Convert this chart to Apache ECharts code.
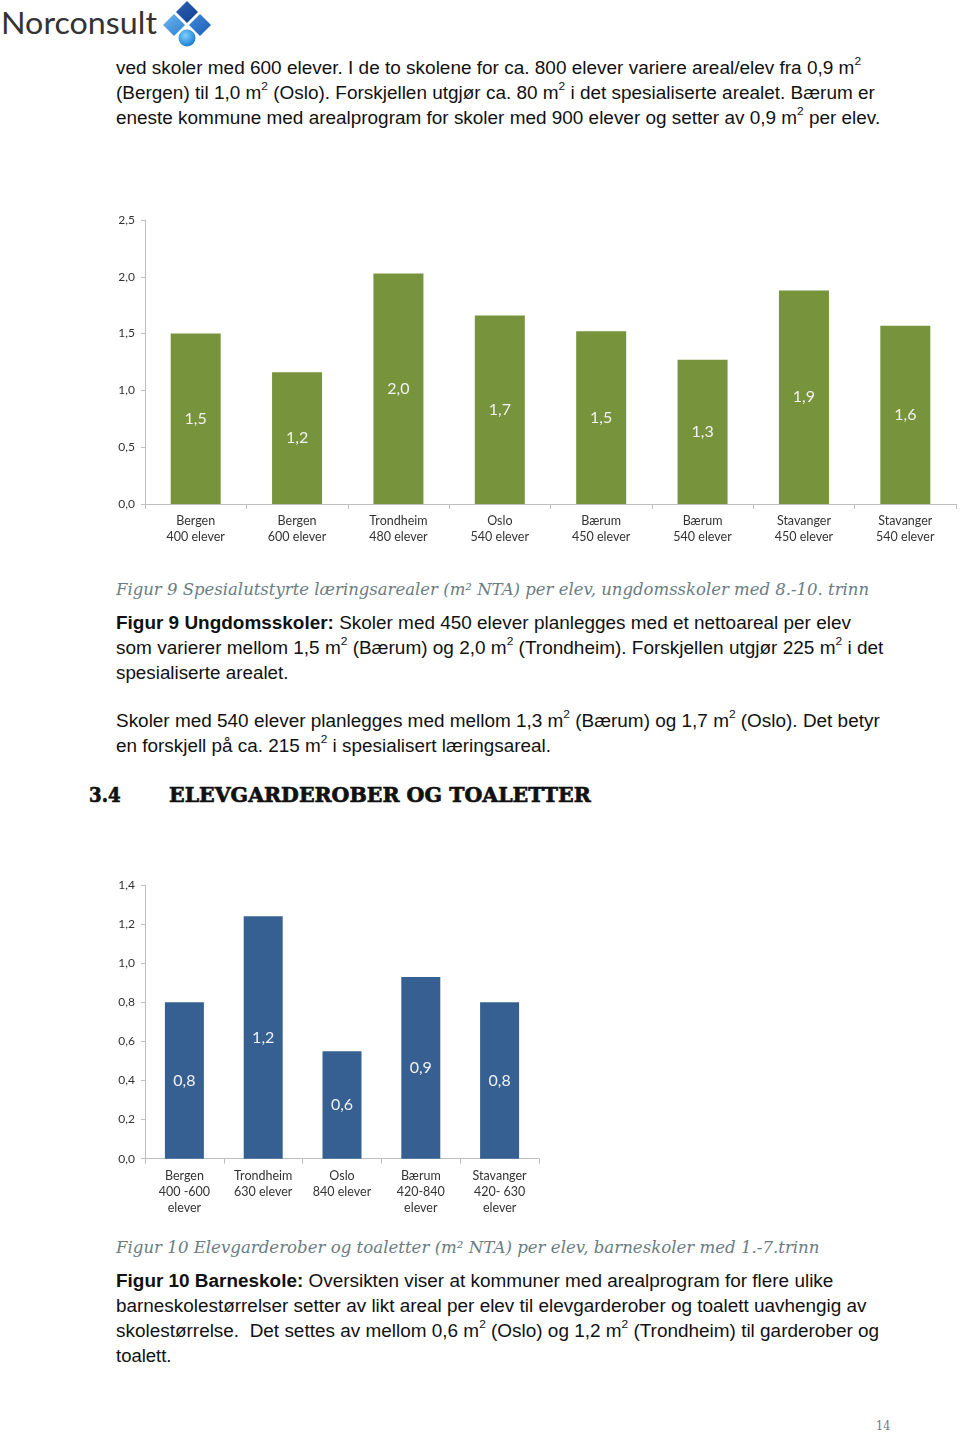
<!DOCTYPE html>
<html>
<head>
<meta charset="utf-8">
<script src="https://cdn.jsdelivr.net/npm/echarts@6/dist/echarts.min.js"></script>
<style>
  html, body { margin:0; padding:0; background:#fff; }
  body { width:960px; height:1434px; position:relative; overflow:hidden; }
  .t { position:absolute; white-space:nowrap; transform-origin:0 50%; line-height:20px; }
  .body { font-family:"Liberation Sans", Arial, sans-serif; font-size:17.5px; color:#111; }
  .cap { font-family:"DejaVu Serif", serif; font-style:italic; font-size:16px; color:#6a7c84; }
  .head { font-family:"DejaVu Serif", serif; font-weight:bold; font-size:21px; color:#111; line-height:26px; -webkit-text-stroke:0.7px #111; }
  sup { font-size:11px; line-height:0; vertical-align:0.8em; }
  .chart { position:absolute; left:0; width:960px; }
</style>
</head>
<body>
<!-- Logo -->
<div class="t" style="left:1px;top:4px;font-family:Lato, 'Open Sans', sans-serif;font-size:31px;line-height:36px;color:#333;" data-w="156">Norconsult</div>
<svg style="position:absolute;left:163px;top:0px" width="52" height="48">
  <defs>
    <linearGradient id="g1" x1="0" y1="0" x2="1" y2="1"><stop offset="0" stop-color="#2a62b8"/><stop offset="1" stop-color="#153f8c"/></linearGradient>
    <linearGradient id="g2" x1="0" y1="0" x2="1" y2="1"><stop offset="0" stop-color="#6fb6ee"/><stop offset="1" stop-color="#2c7fd0"/></linearGradient>
    <linearGradient id="g3" x1="0" y1="0" x2="1" y2="1"><stop offset="0" stop-color="#3f8ad8"/><stop offset="1" stop-color="#1d5db5"/></linearGradient>
    <radialGradient id="g4" cx="0.4" cy="0.35" r="0.7"><stop offset="0" stop-color="#7fd0ff"/><stop offset="1" stop-color="#1577d0"/></radialGradient>
  </defs>
  <polygon points="24,1 35,12 24,23 13,12" fill="url(#g1)"/>
  <polygon points="11,14 22,25 11,36 0,25" fill="url(#g2)"/>
  <polygon points="37,14 48,25 37,36 26,25" fill="url(#g3)"/>
  <circle cx="24" cy="38" r="8.5" fill="url(#g4)"/>
</svg>

<div class="t body" style="left:116px;top:58px" data-w="745">ved skoler med 600 elever. I de to skolene for ca. 800 elever variere areal/elev fra 0,9 m<sup>2</sup></div>
<div class="t body" style="left:116px;top:83px" data-w="759">(Bergen) til 1,0 m<sup>2</sup> (Oslo). Forskjellen utgjør ca. 80 m<sup>2</sup> i det spesialiserte arealet. Bærum er</div>
<div class="t body" style="left:116px;top:108px" data-w="764">eneste kommune med arealprogram for skoler med 900 elever og setter av 0,9 m<sup>2</sup> per elev.</div>

<div id="c1" class="chart" style="top:200px;height:360px"></div>

<div class="t cap" style="left:116px;top:580px" data-w="753">Figur 9 Spesialutstyrte læringsarealer (m² NTA) per elev, ungdomsskoler med 8.-10. trinn</div>
<div class="t body" style="left:116px;top:613px" data-w="735"><b>Figur 9 Ungdomsskoler:</b> Skoler med 450 elever planlegges med et nettoareal per elev</div>
<div class="t body" style="left:116px;top:638px" data-w="767">som varierer mellom 1,5 m<sup>2</sup> (Bærum) og 2,0 m<sup>2</sup> (Trondheim). Forskjellen utgjør 225 m<sup>2</sup> i det</div>
<div class="t body" style="left:116px;top:663px" data-w="173">spesialiserte arealet.</div>
<div class="t body" style="left:116px;top:711px" data-w="764">Skoler med 540 elever planlegges med mellom 1,3 m<sup>2</sup> (Bærum) og 1,7 m<sup>2</sup> (Oslo). Det betyr</div>
<div class="t body" style="left:116px;top:736px" data-w="435">en forskjell på ca. 215 m<sup>2</sup> i spesialisert læringsareal.</div>

<div class="t head" style="left:89px;top:782px" data-w="32">3.4</div>
<div class="t head" style="left:169px;top:782px" data-w="422">ELEVGARDEROBER OG TOALETTER</div>

<div id="c2" class="chart" style="top:870px;height:360px"></div>

<div class="t cap" style="left:116px;top:1238px" data-w="704">Figur 10 Elevgarderober og toaletter (m² NTA) per elev, barneskoler med 1.-7.trinn</div>
<div class="t body" style="left:116px;top:1271px" data-w="717"><b>Figur 10 Barneskole:</b> Oversikten viser at kommuner med arealprogram for flere ulike</div>
<div class="t body" style="left:116px;top:1296px" data-w="751">barneskolestørrelser setter av likt areal per elev til elevgarderober og toalett uavhengig av</div>
<div class="t body" style="left:116px;top:1321px" data-w="763">skolestørrelse.&nbsp; Det settes av mellom 0,6 m<sup>2</sup> (Oslo) og 1,2 m<sup>2</sup> (Trondheim) til garderober og</div>
<div class="t body" style="left:116px;top:1346px" data-w="56">toalett.</div>

<div class="t" style="left:876px;top:1416px;font-family:'DejaVu Serif',serif;font-size:12px;color:#777;" data-w="14">14</div>

<script>
// ---- Data ----
const ungdomCategories = ["Bergen\n400 elever", "Bergen\n600 elever", "Trondheim\n480 elever", "Oslo\n540 elever",
                          "Bærum\n450 elever", "Bærum\n540 elever", "Stavanger\n450 elever", "Stavanger\n540 elever"];
const ungdomValues = [1.50, 1.16, 2.03, 1.66, 1.52, 1.27, 1.88, 1.57];
const ungdomTicks = { min: 0, max: 2.5, interval: 0.5 };

const barneCategories = ["Bergen\n400 -600\nelever", "Trondheim\n630 elever", "Oslo\n840 elever",
                         "Bærum\n420-840\nelever", "Stavanger\n420- 630\nelever"];
const barneValues = [0.80, 1.24, 0.55, 0.93, 0.80];
const barneTicks = { min: 0, max: 1.4, interval: 0.2 };

// fit text lines
document.querySelectorAll('.t[data-w]').forEach(el => {
  const w = el.scrollWidth;
  const target = +el.dataset.w;
  if (w > 0) el.style.transform = 'scaleX(' + (target / w) + ')';
});

const comma = v => Number(v).toFixed(1).replace('.', ',');
const font = 'Lato, "Open Sans", sans-serif';

function makeChart(id, cats, vals, ticks, grid, barWidth, color) {
  const ch = echarts.init(document.getElementById(id), null, { renderer: 'canvas' });
  ch.setOption({
    animation: false,
    grid: grid,
    xAxis: {
      type: 'category', data: cats, boundaryGap: true,
      axisLine: { show: true, lineStyle: { color: '#bfbfbf', width: 1 } },
      axisTick: { show: true, length: 5, lineStyle: { color: '#bfbfbf' } },
      axisLabel: { color: '#333', fontFamily: font, fontSize: 12.5, lineHeight: 16, margin: 9, interval: 0 }
    },
    yAxis: {
      type: 'value', min: ticks.min, max: ticks.max, interval: ticks.interval,
      axisLine: { show: true, lineStyle: { color: '#bfbfbf', width: 1 } },
      axisTick: { show: true, length: 4, lineStyle: { color: '#bfbfbf' } },
      splitLine: { show: false },
      axisLabel: { color: '#333', fontFamily: font, fontSize: 12, margin: 10, formatter: v => comma(v) }
    },
    series: [{
      type: 'bar', data: vals, barWidth: barWidth,
      itemStyle: { color: color },
      label: { show: true, position: 'inside', color: '#f2f2f2', fontFamily: font, fontSize: 16,
               formatter: p => comma(p.value) }
    }]
  });
}

makeChart('c1', ungdomCategories, ungdomValues, ungdomTicks,
  { left: 145, top: 20, width: 811, height: 284 }, 50, '#77933C');
makeChart('c2', barneCategories, barneValues, barneTicks,
  { left: 145, top: 15, width: 394, height: 273.7 }, 39, '#376092');
</script>
</body>
</html>
